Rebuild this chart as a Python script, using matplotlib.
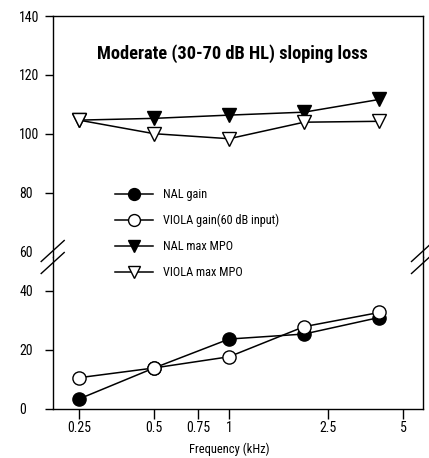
import matplotlib
matplotlib.use('Agg')
import matplotlib.pyplot as plt

plt.rcParams['font.family'] = ['Liberation Sans Narrow', 'Roboto Condensed', 'Liberation Sans', 'DejaVu Sans']

freq = [0.25, 0.5, 1, 2, 4]
nal_gain = [3.4, 13.9, 23.7, 25.4, 31.0]
viola_gain = [10.6, 13.9, 17.7, 27.9, 32.7]
nal_mpo = [104.7, 105.3, 106.4, 107.4, 111.7]
viola_mpo = [104.7, 100.1, 98.4, 104.0, 104.3]

xticks = [0.25, 0.5, 0.75, 1, 2.5, 5]
xticklabels = ['0.25', '0.5', '0.75', '1', '2.5', '5']
yticks_low = [0, 20, 40]
yticks_up = [60, 80, 100, 120, 140]

W, H = 429, 458
fig = plt.figure(figsize=(W / 100, H / 100), dpi=100)

left, right = 52.7 / W, 423 / W
y_top, y_brk, y_bot = 16, 257, 409
ax_up = fig.add_axes([left, 1 - y_brk / H, right - left, (y_brk - y_top) / H])
ax_lo = fig.add_axes([left, 1 - y_bot / H, right - left, (y_bot - y_brk) / H], sharex=ax_up)

lw = 1.1
ms = 9.5
h1, = ax_lo.plot(freq, nal_gain, color='black', lw=lw, marker='o', ms=ms,
                 mfc='black', mec='black', mew=1, label='NAL gain', clip_on=False, zorder=3)
h2, = ax_lo.plot(freq, viola_gain, color='black', lw=lw, marker='o', ms=ms,
                 mfc='white', mec='black', mew=1, label='VIOLA gain(60 dB input)', clip_on=False, zorder=4)
h3, = ax_up.plot(freq, nal_mpo, color='black', lw=lw, marker='v', ms=ms,
                 mfc='black', mec='black', mew=1, label='NAL max MPO', zorder=3)
h4, = ax_up.plot(freq, viola_mpo, color='black', lw=lw, marker='v', ms=ms,
                 mfc='white', mec='black', mew=1, label='VIOLA max MPO', zorder=4)

ax_up.set_xscale('log')
ax_up.set_xlim(0.196, 6.0)
ax_lo.set_ylim(0, 51.5)
ax_up.set_ylim(58.3, 140)

ax_lo.set_xticks(xticks)
ax_lo.set_xticklabels(xticklabels)
ax_lo.xaxis.set_minor_locator(matplotlib.ticker.NullLocator())
ax_up.tick_params(axis='x', which='both', bottom=False, labelbottom=False)
ax_lo.tick_params(axis='x', direction='out', length=7, width=1, pad=2, labelsize=10)

ax_lo.set_yticks(yticks_low)
ax_up.set_yticks(yticks_up)
for a in (ax_lo, ax_up):
    a.tick_params(axis='y', direction='out', length=6, width=1, pad=18, labelsize=10)
    for lab in a.get_yticklabels():
        lab.set_horizontalalignment('left')
    for s in a.spines.values():
        s.set_linewidth(1)
ax_up.yaxis.get_major_ticks()[0].tick1line.set_visible(False)

ax_up.spines['bottom'].set_visible(False)
ax_lo.spines['top'].set_visible(False)

# break marks
for xf in (left, right):
    for dy in (-6, 6):
        yc = 1 - (y_brk + dy) / H
        fig.add_artist(plt.Line2D([xf - 11.5 / W, xf + 11.5 / W],
                                  [yc - 10.5 / H, yc + 10.5 / H],
                                  color='black', lw=1))

ax_up.text(0.485, 0.846, 'Moderate (30-70 dB HL) sloping loss', transform=ax_up.transAxes,
           ha='center', va='center', fontsize=13.2, fontweight='bold')

ax_lo.set_xlabel('Frequency (kHz)', fontsize=9)
ax_lo.xaxis.set_label_coords(0.476, -0.22)

fig.legend(handles=[h1, h2, h3, h4], loc='upper left', frameon=False,
           bbox_to_anchor=(115 / W, 1 - 188 / H), fontsize=8.8, borderpad=0, borderaxespad=0,
           handlelength=3.1, labelspacing=1.05, handletextpad=0.8, markerscale=0.9)

fig.savefig('out.png', dpi=100)
